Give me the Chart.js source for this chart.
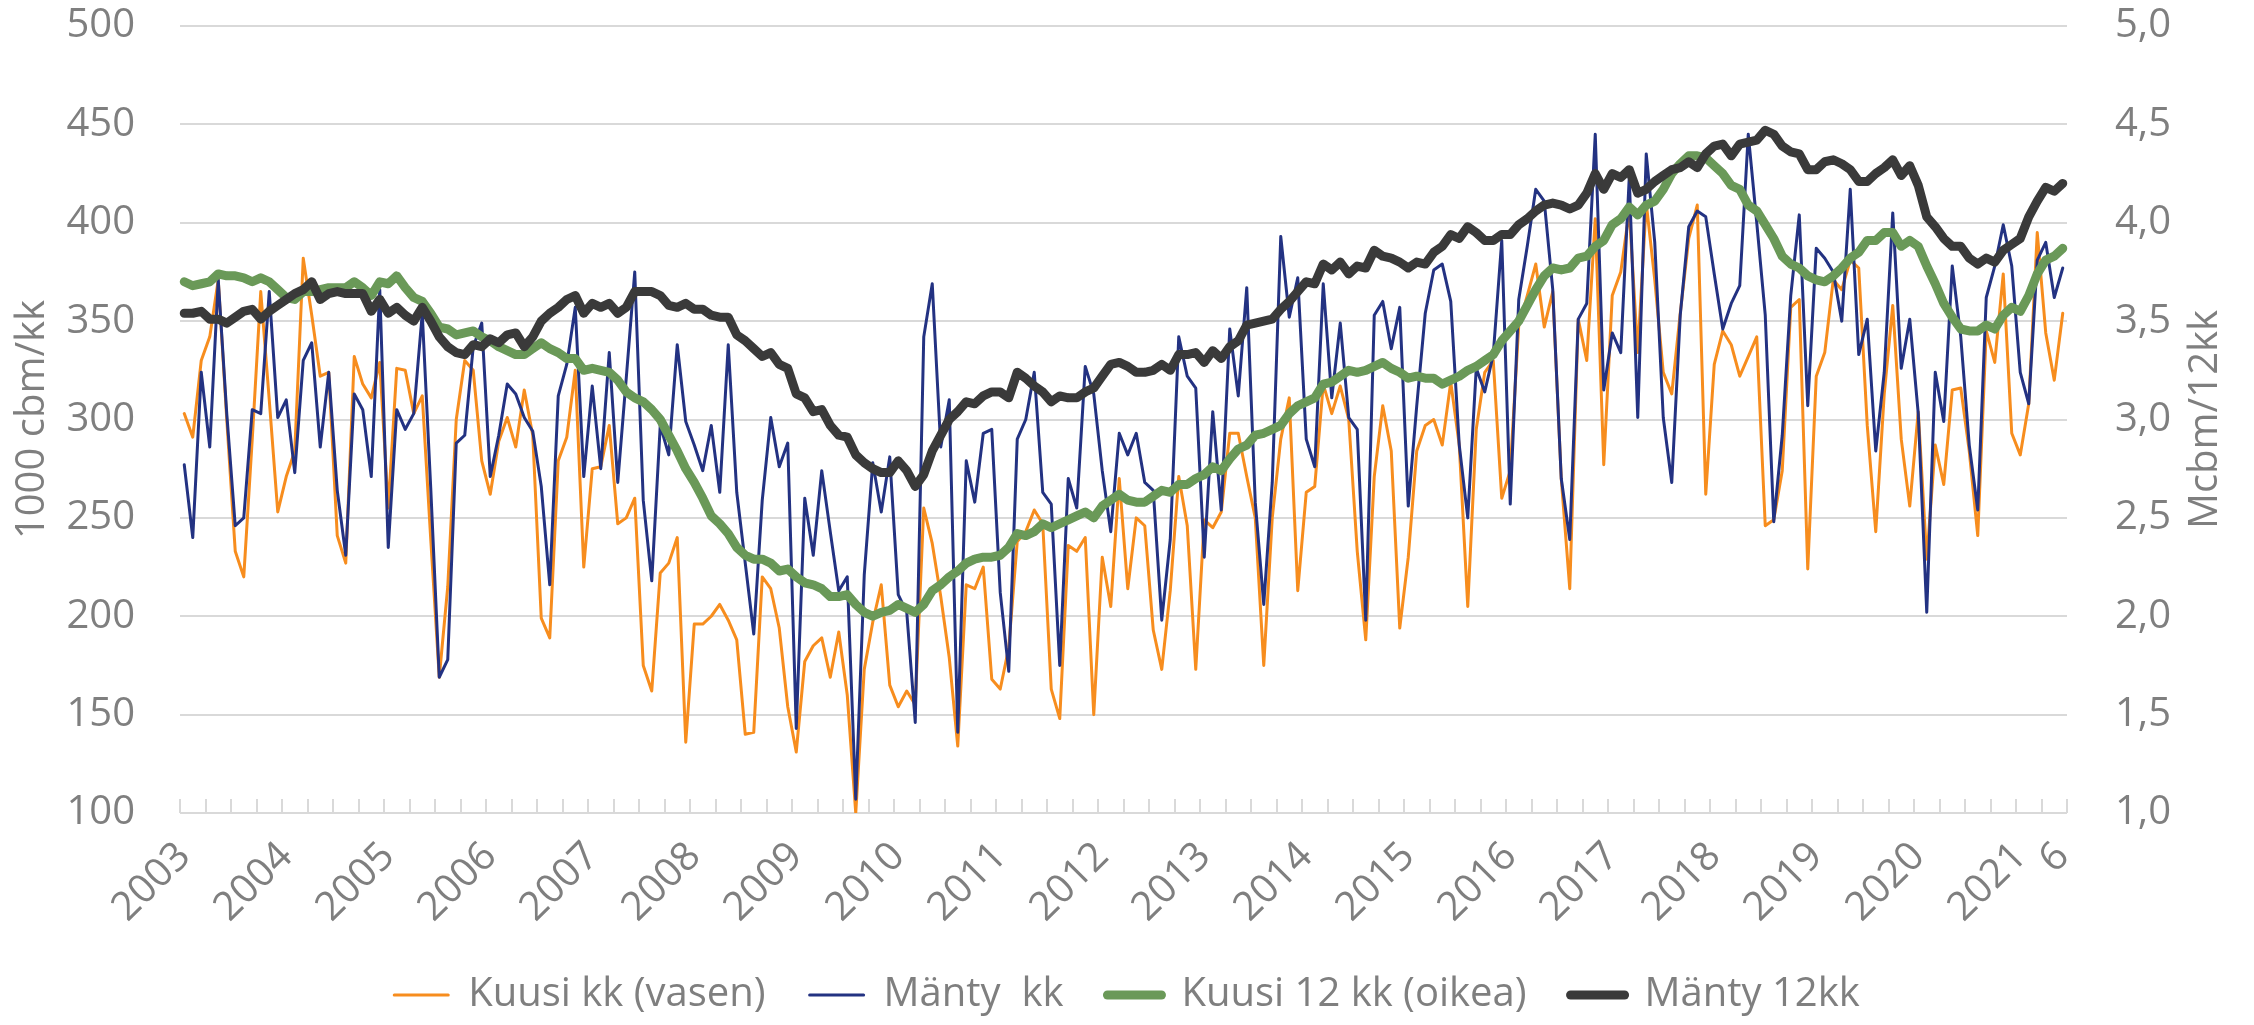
<!DOCTYPE html>
<html lang="fi">
<head>
  <meta charset="UTF-8">
  <title>Kuusi ja mänty</title>
  <script src="https://cdn.jsdelivr.net/npm/chart.js"></script>
  <style>
    html, body { margin: 0; background: #fff; }
    canvas { display: block; }
  </style>
</head>
<body>
  <canvas id="kaavio" width="2254" height="1025"></canvas>

  <script>
    /* --- Kuukaudet 2003/1 ... 2021/6 --- */
    const kuukaudet = [];
    for (let v = 2003; v <= 2021; v++)
      for (let k = 1; k <= 12; k++)
        if (v < 2021 || k <= 6) kuukaudet.push(v + '-' + k);

    /* --- Kuusi kk, 1000 cbm (vasen akseli) --- */
    const kuusiKk = [
      303, 291, 330, 342, 371, 300, 233, 220, 290, 365,
      310, 253, 271, 284, 382, 353, 322, 324, 241, 227,
      332, 318, 311, 329, 255, 326, 325, 303, 312, 239,
      169, 215, 300, 330, 325, 279, 262, 289, 301, 286,
      315, 292, 199, 189, 279, 291, 325, 225, 275, 276,
      297, 247, 250, 260, 175, 162, 222, 227, 240, 136,
      196, 196, 200, 206, 198, 188, 140, 141, 220, 214,
      194, 154, 131, 177, 185, 189, 169, 192, 160, 100,
      173, 197, 216, 165, 154, 162, 155, 255, 237, 210,
      179, 134, 216, 214, 225, 168, 163, 184, 238, 243,
      254, 247, 163, 148, 236, 233, 240, 150, 230, 205,
      270, 214, 250, 246, 193, 173, 213, 271, 246, 173,
      249, 245, 253, 293, 293, 271, 250, 175, 250, 290,
      311, 213, 263, 266, 318, 303, 317, 300, 233, 188,
      271, 307, 284, 194, 230, 284, 297, 300, 287, 319,
      287, 205, 295, 324, 330, 260, 274, 348, 363, 379,
      347, 365, 270, 214, 351, 330, 402, 277, 363, 375,
      406, 334, 410, 371, 324, 313, 354, 392, 409, 262,
      328, 345, 338, 322, 332, 342, 246, 249, 274, 357,
      361, 224, 322, 334, 371, 366, 381, 377, 297, 243,
      313, 358, 290, 256, 304, 229, 287, 267, 315, 316,
      284, 241, 345, 329, 374, 293, 282, 308, 395, 344,
      320, 354
    ];

    /* --- Mänty kk, 1000 cbm --- */
    const mantyKk = [
      277, 240, 324, 286, 371, 303, 246, 250, 305, 303,
      365, 301, 310, 273, 330, 339, 286, 324, 264, 231,
      313, 305, 271, 366, 235, 305, 295, 303, 354, 265,
      169, 178, 288, 292, 337, 349, 271, 292, 318, 313,
      301, 294, 266, 216, 312, 328, 357, 271, 317, 275,
      334, 268, 321, 375, 259, 218, 297, 282, 338, 299,
      287, 274, 297, 263, 338, 263, 227, 191, 259, 301,
      276, 288, 143, 260, 231, 274, 243, 213, 220, 107,
      221, 278, 253, 281, 211, 202, 146, 342, 369, 286,
      310, 141, 279, 258, 293, 295, 212, 172, 290, 300,
      324, 263, 257, 175, 270, 255, 327, 313, 274, 243,
      293, 282, 293, 268, 264, 198, 239, 342, 322, 316,
      230, 304, 254, 346, 312, 367, 258, 206, 268, 393,
      352, 372, 290, 276, 369, 311, 349, 301, 295, 198,
      353, 360, 336, 357, 256, 307, 354, 376, 379, 360,
      287, 250, 326, 314, 333, 391, 257, 361, 388, 417,
      411, 366, 270, 239, 351, 359, 445, 315, 344, 334,
      423, 301, 435, 390, 301, 268, 353, 398, 406, 403,
      374, 346, 359, 368, 445, 400, 353, 248, 292, 363,
      404, 307, 387, 382, 375, 350, 417, 333, 351, 284,
      324, 405, 326, 351, 303, 202, 324, 299, 378, 342,
      287, 254, 362, 378, 399, 378, 324, 308, 381, 390,
      362, 377
    ];

    /* --- Kuusi 12 kk, Mcbm (oikea akseli) --- */
    const kuusi12 = [
      3.70, 3.68, 3.69, 3.70, 3.74, 3.73, 3.73, 3.72, 3.70, 3.72,
      3.70, 3.66, 3.62, 3.61, 3.65, 3.65, 3.66, 3.67, 3.67, 3.67,
      3.70, 3.67, 3.63, 3.70, 3.69, 3.73, 3.67, 3.62, 3.60, 3.54,
      3.47, 3.46, 3.43, 3.44, 3.45, 3.42, 3.40, 3.37, 3.35, 3.33,
      3.33, 3.36, 3.39, 3.36, 3.34, 3.31, 3.31, 3.25, 3.26, 3.25,
      3.24, 3.20, 3.14, 3.11, 3.09, 3.05, 3.00, 2.92, 2.84, 2.75,
      2.68, 2.60, 2.51, 2.47, 2.42, 2.35, 2.31, 2.29, 2.29, 2.27,
      2.23, 2.24, 2.20, 2.17, 2.16, 2.14, 2.10, 2.10, 2.11, 2.06,
      2.02, 2.00, 2.02, 2.03, 2.06, 2.04, 2.02, 2.06, 2.13, 2.16,
      2.20, 2.23, 2.27, 2.29, 2.30, 2.30, 2.31, 2.35, 2.42, 2.41,
      2.43, 2.47, 2.45, 2.47, 2.49, 2.51, 2.53, 2.50, 2.56, 2.59,
      2.62, 2.59, 2.58, 2.58, 2.61, 2.64, 2.63, 2.67, 2.67, 2.70,
      2.72, 2.76, 2.74, 2.80, 2.85, 2.87, 2.92, 2.93, 2.95, 2.97,
      3.03, 3.07, 3.09, 3.11, 3.18, 3.19, 3.22, 3.25, 3.24, 3.25,
      3.27, 3.29, 3.26, 3.24, 3.21, 3.22, 3.21, 3.21, 3.18, 3.20,
      3.22, 3.25, 3.27, 3.30, 3.33, 3.40, 3.45, 3.50, 3.58, 3.66,
      3.73, 3.77, 3.76, 3.77, 3.82, 3.83, 3.88, 3.91, 3.99, 4.02,
      4.08, 4.04, 4.09, 4.11, 4.17, 4.25, 4.30, 4.34, 4.34, 4.33,
      4.29, 4.25, 4.19, 4.17, 4.09, 4.06, 3.99, 3.92, 3.83, 3.79,
      3.77, 3.73, 3.71, 3.70, 3.73, 3.77, 3.82, 3.85, 3.91, 3.91,
      3.95, 3.95, 3.88, 3.91, 3.88, 3.78, 3.69, 3.59, 3.52, 3.46,
      3.45, 3.45, 3.48, 3.46, 3.53, 3.57, 3.55, 3.63, 3.74, 3.81,
      3.83, 3.87
    ];

    /* --- Mänty 12 kk, Mcbm --- */
    const manty12 = [
      3.54, 3.54, 3.55, 3.51, 3.51, 3.49, 3.52, 3.55, 3.56, 3.51,
      3.55, 3.58, 3.61, 3.64, 3.66, 3.70, 3.61, 3.64, 3.65, 3.64,
      3.64, 3.64, 3.55, 3.61, 3.54, 3.57, 3.53, 3.50, 3.57, 3.50,
      3.42, 3.37, 3.34, 3.33, 3.38, 3.37, 3.41, 3.39, 3.43, 3.44,
      3.37, 3.42, 3.50, 3.54, 3.57, 3.61, 3.63, 3.54, 3.59, 3.57,
      3.59, 3.54, 3.57, 3.65, 3.65, 3.65, 3.63, 3.58, 3.57, 3.59,
      3.56, 3.56, 3.53, 3.52, 3.52, 3.43, 3.40, 3.36, 3.32, 3.34,
      3.28, 3.26, 3.13, 3.11, 3.04, 3.05, 2.97, 2.92, 2.91, 2.82,
      2.78, 2.75, 2.73, 2.73, 2.79, 2.74, 2.66, 2.72, 2.84, 2.92,
      3.00, 3.04, 3.09, 3.08, 3.12, 3.14, 3.14, 3.11, 3.24, 3.21,
      3.17, 3.14, 3.09, 3.12, 3.11, 3.11, 3.14, 3.16, 3.22, 3.28,
      3.29, 3.27, 3.24, 3.24, 3.25, 3.28, 3.25, 3.33, 3.33, 3.34,
      3.29, 3.35, 3.31, 3.37, 3.40, 3.48, 3.49, 3.50, 3.51, 3.56,
      3.60, 3.65, 3.70, 3.69, 3.79, 3.76, 3.80, 3.74, 3.78, 3.77,
      3.86, 3.83, 3.82, 3.80, 3.77, 3.80, 3.79, 3.85, 3.88, 3.94,
      3.92, 3.98, 3.95, 3.91, 3.91, 3.94, 3.94, 3.99, 4.02, 4.06,
      4.09, 4.10, 4.09, 4.07, 4.09, 4.15, 4.25, 4.17, 4.25, 4.23,
      4.27, 4.15, 4.17, 4.21, 4.24, 4.27, 4.28, 4.31, 4.28, 4.35,
      4.39, 4.40, 4.34, 4.40, 4.41, 4.42, 4.47, 4.45, 4.39, 4.36,
      4.35, 4.27, 4.27, 4.31, 4.32, 4.30, 4.27, 4.21, 4.21, 4.25,
      4.28, 4.32, 4.24, 4.29, 4.19, 4.03, 3.98, 3.92, 3.88, 3.88,
      3.82, 3.79, 3.82, 3.80, 3.86, 3.89, 3.92, 4.03, 4.11, 4.18,
      4.16, 4.20
    ];

    const harmaa = '#7f7f7f';
    const fontti = '"Open Sans", sans-serif';
    Chart.defaults.font.family = fontti;
    Chart.defaults.color = harmaa;

    /* pienet tikit x-akselin sisäpuolelle, 3 kk välein */
    const tikit = {
      id: 'tikit',
      beforeDatasetsDraw (chart) {
        const x = chart.scales.x, ctx = chart.ctx;
        const ala = chart.chartArea.bottom;
        const puoli = (x.getPixelForValue(1) - x.getPixelForValue(0)) / 2;
        ctx.save();
        ctx.strokeStyle = '#d9d9d9';
        ctx.lineWidth = 2;
        for (let k = 0; k <= kuukaudet.length; k += 3) {
          const px = k < kuukaudet.length ? x.getPixelForValue(k) - puoli
                                          : x.getPixelForValue(k - 1) + puoli;
          ctx.beginPath();
          ctx.moveTo(Math.round(px), ala);
          ctx.lineTo(Math.round(px), ala - 14);
          ctx.stroke();
        }
        ctx.restore();
      }
    };

    /* oikean akselin otsikko luetaan alhaalta ylös */
    const oikeaOtsikko = {
      id: 'oikeaOtsikko',
      afterDraw (chart) {
        const { ctx, chartArea } = chart;
        ctx.save();
        ctx.translate(chart.scales.y2.right - 48, (chartArea.top + chartArea.bottom) / 2);
        ctx.rotate(-Math.PI / 2);
        ctx.font = '40px ' + fontti;
        ctx.fillStyle = harmaa;
        ctx.textAlign = 'center';
        ctx.textBaseline = 'middle';
        ctx.fillText('Mcbm/12kk', 0, 0);
        ctx.restore();
      }
    };

    new Chart(document.getElementById('kaavio'), {
      type: 'line',
      data: {
        labels: kuukaudet,
        datasets: [
          { label: 'Kuusi kk (vasen)', data: kuusiKk, yAxisID: 'y',
            borderColor: '#F78D1E', borderWidth: 3, pointBorderWidth: 3, order: 4 },
          { label: 'Mänty  kk', data: mantyKk, yAxisID: 'y',
            borderColor: '#233282', borderWidth: 3, pointBorderWidth: 3, order: 3 },
          { label: 'Kuusi 12 kk (oikea)', data: kuusi12, yAxisID: 'y2',
            borderColor: '#6A9958', borderWidth: 9, pointBorderWidth: 9, order: 2 },
          { label: 'Mänty 12kk', data: manty12, yAxisID: 'y2',
            borderColor: '#3A3A3A', borderWidth: 9, pointBorderWidth: 9, order: 1 }
        ].map(d => ({ ...d, pointRadius: 0, pointStyle: 'line', tension: 0,
                       borderJoinStyle: 'round', borderCapStyle: 'round', fill: false }))
      },
      options: {
        responsive: false,
        animation: false,
        devicePixelRatio: 1,
        layout: { padding: { top: 26, left: 0, right: 0, bottom: 0 } },
        plugins: {
          tooltip: { enabled: false },
          legend: {
            position: 'bottom',
            labels: {
              usePointStyle: true,
              pointStyleWidth: 54,
              padding: 44,
              color: harmaa,
              font: { size: 40 },
              sort: (a, b) => a.datasetIndex - b.datasetIndex,
              generateLabels: chart =>
                Chart.defaults.plugins.legend.labels.generateLabels(chart)
                  .map(l => ({ ...l, lineCap: 'round' }))
            }
          }
        },
        scales: {
          x: {
            offset: true,
            grid: { display: false },
            border: { display: false },
            ticks: {
              autoSkip: false,
              maxRotation: 45,
              minRotation: 45,
              padding: 12,
              font: { size: 40 },
              callback: (v, i) => {
                const [vuosi, kk] = kuukaudet[i].split('-');
                if (i === kuukaudet.length - 1) return kk;
                return kk === '1' ? vuosi : '';
              }
            },
            afterFit: s => { s.height = 118; }
          },
          y: {
            position: 'left',
            min: 100, max: 500,
            // tikkien pituus antaa välin tekstin ja kuvaajan väliin
            grid: { color: '#d9d9d9', lineWidth: 2, drawTicks: true,
                    tickLength: 45, tickColor: 'rgba(0,0,0,0)' },
            border: { display: false },
            ticks: { stepSize: 50, padding: 0, font: { size: 40 } },
            title: { display: true, text: '1000 cbm/kk', font: { size: 40 },
                     padding: { top: 9, bottom: 0 } },
            afterFit: s => { s.width = 180; }
          },
          y2: {
            position: 'right',
            min: 1, max: 5,
            grid: { display: true, drawOnChartArea: false, drawTicks: true,
                    tickLength: 48, tickColor: 'rgba(0,0,0,0)' },
            border: { display: false },
            ticks: { stepSize: 0.5, padding: 0, font: { size: 40 },
                     callback: v => v.toFixed(1).replace('.', ',') },
            afterFit: s => { s.width = 187; }
          }
        }
      },
      plugins: [tikit, oikeaOtsikko]
    });
  </script>
</body>
</html>
